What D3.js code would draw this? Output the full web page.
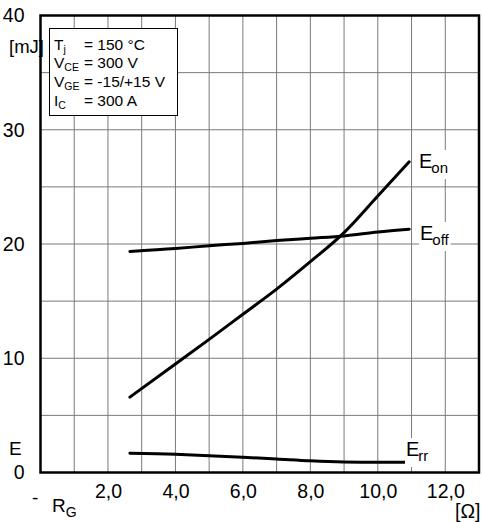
<!DOCTYPE html>
<html>
<head>
<meta charset="utf-8">
<script src="https://cdn.jsdelivr.net/npm/d3@7"></script>
<style>
  html, body { margin: 0; padding: 0; background: #fff; }
  svg { display: block; font-family: "Liberation Sans", Arial, Helvetica, sans-serif; }
</style>
</head>
<body>
<svg id="chart" width="483" height="522"></svg>
<script>
// Switching energies vs. gate resistance R_G
const rg      = [2.65, 4, 5, 6, 7, 8, 9, 10, 10.93];
const eOn     = [6.6, 9.5, 11.65, 13.85, 16.05, 18.45, 21.0, 24.2, 27.2];
const eOff    = [19.35, 19.6, 19.85, 20.05, 20.3, 20.5, 20.7, 21.05, 21.3];
const eRr     = [1.68, 1.59, 1.47, 1.33, 1.18, 1.02, 0.92, 0.89, 0.89];

const xTicks  = [2, 4, 6, 8, 10, 12];
const yTicks  = [0, 10, 20, 30, 40];
const xGrid   = [1, 2, 3, 4, 5, 6, 7, 8, 9, 10, 11, 12];
const yGrid   = [5, 10, 15, 20, 25, 30, 35];

const conditions = [
  { main: "T", sub: "j",  value: "= 150 °C" },
  { main: "V", sub: "CE", value: "= 300 V" },
  { main: "V", sub: "GE", value: "= -15/+15 V" },
  { main: "I", sub: "C",  value: "= 300 A" }
];

const svg = d3.select("#chart");
const x = d3.scaleLinear().domain([0, 13]).range([40.5, 479]);
const y = d3.scaleLinear().domain([0, 40]).range([472.5, 15.5]);

// grid
const grid = svg.append("g").attr("stroke", "#7a7a7a").attr("stroke-width", 1);
grid.selectAll("line.v").data(xGrid).join("line")
  .attr("x1", d => x(d)).attr("x2", d => x(d))
  .attr("y1", y(40)).attr("y2", y(0));
grid.selectAll("line.h").data(yGrid).join("line")
  .attr("x1", x(0)).attr("x2", x(13))
  .attr("y1", d => y(d)).attr("y2", d => y(d));

// curves
const line = d3.line().x(d => x(d[0])).y(d => y(d[1])).curve(d3.curveMonotoneX);
[eOn, eOff, eRr].forEach(series => {
  svg.append("path")
    .datum(rg.map((r, i) => [r, series[i]]))
    .attr("fill", "none").attr("stroke", "#000")
    .attr("stroke-width", 3).attr("stroke-linecap", "round")
    .attr("d", line);
});

// curve labels on white
function curveLabel(px, py, sub) {
  const g = svg.append("g").attr("transform", `translate(${px},${py})`);
  const t = g.append("text").attr("font-size", 20).attr("fill", "#000");
  t.append("tspan").text("E");
  t.append("tspan").attr("font-size", 15).attr("dy", 5).attr("dx", -1).text(sub);
  const bb = t.node().getBBox();
  g.insert("rect", "text")
    .attr("x", bb.x - 1).attr("y", bb.y).attr("width", bb.width + 2).attr("height", bb.height + 3)
    .attr("fill", "#fff");
}
curveLabel(419, 168, "on");
curveLabel(420, 240, "off");
curveLabel(406, 456, "rr");

// frame
svg.append("rect")
  .attr("x", x(0)).attr("y", y(40))
  .attr("width", x(13) - x(0)).attr("height", y(0) - y(40))
  .attr("fill", "none").attr("stroke", "#000").attr("stroke-width", 2.5);

// axes tick labels
const fmt = d => d.toFixed(1).replace(".", ",");
const xAxis = svg.append("g")
  .attr("transform", `translate(0,${y(0)})`)
  .call(d3.axisBottom(x).tickValues(xTicks).tickFormat(fmt).tickSize(0).tickPadding(12));
xAxis.select(".domain").remove();
xAxis.selectAll("text").attr("font-size", 19.5).attr("font-family", null).attr("fill", "#000");

const yAxis = svg.append("g")
  .attr("transform", `translate(${x(0)},0)`)
  .call(d3.axisLeft(y).tickValues(yTicks).tickFormat(d3.format("d")).tickSize(0).tickPadding(16));
yAxis.select(".domain").remove();
yAxis.selectAll("text").attr("font-size", 19.5).attr("font-family", null).attr("fill", "#000");

// axis titles
svg.append("text").attr("x", 9).attr("y", 53).attr("font-size", 18.5).text("[mJ]");
svg.append("text").attr("x", 9).attr("y", 455).attr("font-size", 19).text("E");
svg.append("text").attr("x", 32).attr("y", 504).attr("font-size", 19).text("-");
const rgT = svg.append("text").attr("x", 52).attr("y", 512).attr("font-size", 19);
rgT.append("tspan").text("R");
rgT.append("tspan").attr("font-size", 14).attr("dy", 5).text("G");
svg.append("text").attr("x", 455).attr("y", 518).attr("font-size", 19.5).text("[Ω]");

// conditions box
svg.append("rect")
  .attr("x", 49.5).attr("y", 28.5).attr("width", 128).attr("height", 87)
  .attr("fill", "#fff").attr("stroke", "#000").attr("stroke-width", 1);
conditions.forEach((c, i) => {
  const by = 49.5 + i * 18.8;
  const t = svg.append("text").attr("x", 54).attr("y", by).attr("font-size", 15.5);
  t.append("tspan").text(c.main);
  t.append("tspan").attr("font-size", 10.5).attr("dy", 3).text(c.sub);
  svg.append("text").attr("x", 84).attr("y", by).attr("font-size", 15.5).text(c.value);
});
</script>
</body>
</html>
